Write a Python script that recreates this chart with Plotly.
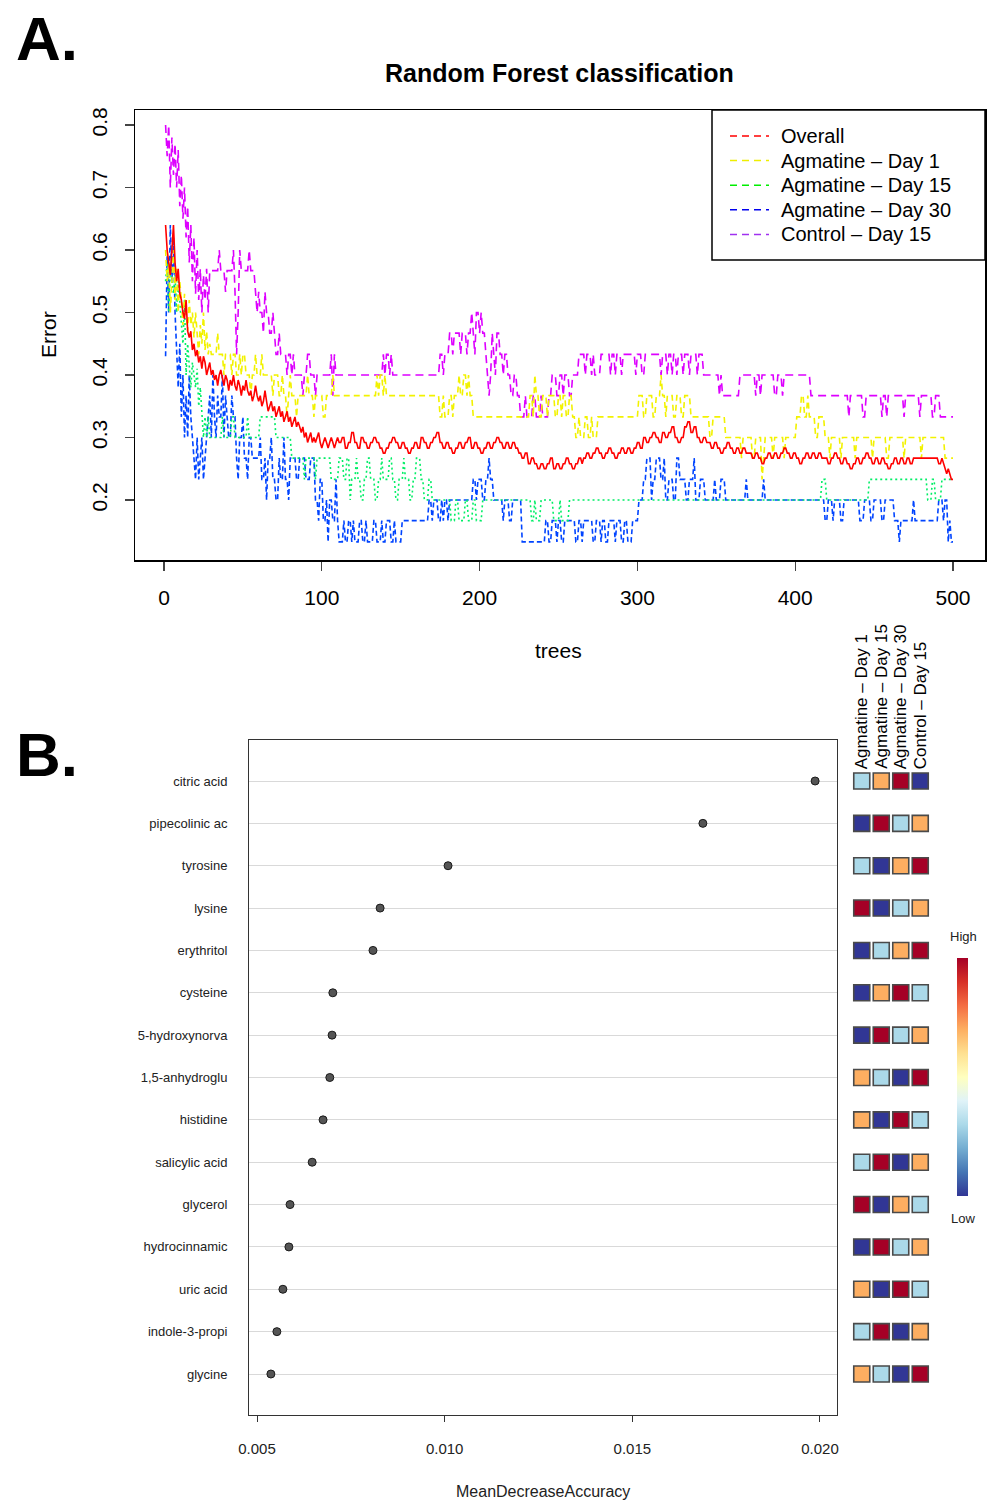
import plotly.graph_objects as go

# ---------------- Panel A data: OOB error per number of trees (run-length: (error, n_trees)) ----------
overall_runs = [
    (0.64,1),(0.60,1),(0.58,1),(0.56,1),(0.60,1),(0.64,1),(0.58,1),(0.55,1),(0.57,1),(0.53,1),
    (0.52,1),(0.50,1),(0.49,1),(0.52,1),(0.47,1),(0.46,1),(0.47,1),(0.44,1),(0.45,1),(0.43,1),
    (0.44,1),(0.42,1),(0.43,1),(0.41,1),(0.43,1),(0.42,1),(0.40,1),(0.41,1),(0.42,1),(0.40,1),
    (0.408,1),(0.392,1),(0.40,1),(0.383,1),(0.40,1),(0.408,1),(0.392,1),(0.383,1),(0.40,1),(0.392,1),
    (0.375,1),(0.392,1),(0.383,1),(0.40,1),(0.383,1),(0.375,1),(0.392,1),(0.383,1),(0.367,1),(0.383,1),
    (0.375,1),(0.392,1),(0.375,1),(0.367,1),
    (0.375,1),(0.358,1),(0.367,1),(0.383,1),(0.367,1),(0.358,1),(0.367,1),(0.35,1),(0.358,1),(0.375,1),
    (0.358,1),(0.342,1),(0.35,1),(0.358,1),(0.342,1),(0.35,1),(0.333,1),(0.342,1),(0.35,1),(0.333,1),
    (0.342,1),(0.325,1),(0.333,1),(0.342,1),(0.325,1),(0.333,1),(0.317,1),(0.325,1),(0.333,1),(0.317,1),
    (0.325,1),(0.317,1),
    (0.308,1),(0.317,1),(0.30,1),(0.308,1),(0.292,1),(0.30,1),(0.308,1),(0.292,1),(0.30,1),(0.292,1),
    (0.30,1),(0.308,1),(0.292,1),(0.283,1),(0.292,1),(0.30,1),(0.292,1),(0.283,1),(0.292,1),(0.30,1),
    (0.292,1),(0.283,1),(0.292,1),(0.30,1),
    (0.292,2),(0.30,2),(0.283,2),(0.292,2),(0.308,2),(0.292,2),(0.283,2),(0.30,2),(0.292,2),(0.283,2),
    (0.292,2),(0.30,2),(0.292,2),(0.283,2),(0.275,2),(0.283,2),(0.292,2),(0.30,2),(0.292,2),(0.283,2),
    (0.292,2),(0.283,2),(0.275,2),(0.283,2),(0.292,2),(0.283,2),(0.30,2),(0.292,2),(0.283,2),(0.292,2),
    (0.30,2),(0.308,2),(0.292,2),(0.283,2),(0.292,2),(0.283,2),(0.275,2),(0.283,2),(0.292,2),(0.283,2),
    (0.292,2),(0.30,2),(0.283,2),(0.292,2),(0.283,2),(0.275,2),(0.283,2),(0.292,2),(0.283,2),(0.292,2),
    (0.30,2),(0.292,2),(0.283,2),(0.292,2),(0.283,2),(0.292,2),(0.283,2),
    (0.275,2),(0.267,2),(0.275,2),(0.258,2),(0.267,2),(0.258,2),(0.25,2),(0.258,2),
    (0.25,2),(0.258,2),(0.267,2),(0.25,2),(0.258,2),(0.25,2),(0.258,2),(0.267,2),(0.258,2),(0.25,2),
    (0.258,2),(0.267,2),(0.258,1),
    (0.267,2),(0.275,2),(0.267,2),(0.275,2),(0.283,2),(0.275,2),(0.267,2),(0.275,2),(0.283,2),(0.275,2),
    (0.267,2),(0.275,2),(0.283,2),(0.275,2),(0.283,2),(0.275,2),
    (0.283,2),(0.292,2),(0.283,2),(0.30,2),(0.292,2),(0.30,2),(0.308,2),(0.30,2),(0.292,2),(0.308,2),
    (0.30,2),(0.308,2),(0.317,2),(0.30,2),(0.292,2),(0.30,2),(0.317,2),(0.325,2),(0.308,2),(0.317,2),
    (0.30,2),(0.292,2),(0.30,2),(0.292,1),
    (0.292,2),(0.283,2),(0.292,2),(0.283,2),(0.275,2),(0.283,2),(0.292,2),(0.283,2),(0.275,2),(0.283,2),
    (0.275,2),(0.283,2),(0.275,2),
    (0.275,2),(0.267,2),(0.275,2),(0.267,2),(0.258,2),(0.267,2),(0.275,2),(0.267,2),(0.275,2),(0.267,2),
    (0.275,2),(0.283,2),(0.275,2),(0.267,2),(0.275,2),(0.267,2),(0.258,2),(0.267,2),(0.275,2),(0.267,2),
    (0.275,2),(0.267,2),(0.275,2),(0.267,2),
    (0.267,2),(0.258,2),(0.267,2),(0.275,2),(0.267,2),(0.258,2),(0.267,2),(0.258,2),(0.25,2),(0.258,2),
    (0.267,2),(0.258,2),(0.267,2),(0.275,2),(0.267,2),(0.258,2),(0.267,2),(0.258,2),(0.267,2),(0.258,2),
    (0.25,2),(0.258,2),(0.267,2),(0.258,2),(0.267,2),(0.258,2),(0.267,2),(0.258,2),(0.267,16),(0.258,2),
    (0.267,1),(0.258,1),(0.25,1),(0.242,1),(0.25,1),(0.242,1),(0.233,2),
]

day1_runs = [
    (0.60,1),(0.55,1),(0.58,1),(0.50,1),(0.55,1),(0.60,1),(0.52,1),(0.57,1),(0.50,1),(0.55,1),
    (0.52,1),(0.48,1),(0.53,1),(0.50,1),(0.47,1),(0.52,1),(0.48,1),(0.50,1),(0.46,1),(0.50,1),
    (0.47,1),(0.433,1),(0.48,1),(0.45,1),(0.50,1),(0.44,1),(0.47,1),(0.433,1),(0.45,1),(0.433,1),
    (0.433,3),(0.467,1),(0.433,3),(0.40,1),(0.433,4),(0.40,1),(0.433,2),
    (0.40,2),(0.433,1),(0.40,1),(0.433,2),(0.40,3),(0.367,1),(0.40,2),(0.433,1),(0.40,2),
    (0.40,1),(0.433,1),(0.40,6),(0.367,1),(0.40,3),
    (0.367,2),(0.40,1),(0.367,2),(0.333,1),(0.367,1),(0.40,1),(0.367,3),(0.333,1),(0.367,2),
    (0.367,4),(0.40,1),(0.367,3),(0.333,1),(0.367,5),(0.333,2),(0.367,4),(0.40,1),(0.367,3),
    (0.367,24),(0.40,1),(0.367,1),(0.40,2),(0.367,1),(0.40,1),(0.367,3),
    (0.367,31),
    (0.333,2),(0.367,1),(0.333,3),(0.367,2),(0.333,1),(0.367,3),(0.40,1),(0.367,2),(0.40,2),(0.367,1),
    (0.40,1),(0.367,2),(0.333,36),
    (0.367,2),(0.333,1),(0.40,1),(0.367,2),(0.333,2),(0.367,3),(0.333,1),(0.367,4),(0.333,2),(0.367,2),(0.333,1),
    (0.367,2),(0.333,2),(0.367,2),
    (0.333,2),(0.30,2),(0.333,1),(0.30,3),(0.333,2),(0.30,2),(0.333,1),(0.30,3),
    (0.333,26),
    (0.367,3),(0.333,2),(0.367,4),(0.333,2),(0.367,3),(0.40,1),(0.367,2),(0.333,1),(0.367,4),(0.333,2),
    (0.367,3),(0.333,2),(0.367,4),(0.333,2),
    (0.333,10),(0.30,2),(0.333,8),(0.30,5),
    (0.30,5),(0.267,1),(0.30,6),(0.267,2),(0.30,4),(0.233,1),(0.267,1),(0.30,5),(0.267,1),(0.30,6),(0.267,1),(0.30,7),
    (0.333,3),(0.367,2),(0.333,2),(0.367,1),(0.333,4),(0.30,2),(0.333,4),
    (0.30,3),(0.267,1),(0.30,6),(0.267,1),(0.30,8),(0.267,1),(0.30,10),(0.267,1),(0.30,8),(0.267,2),
    (0.30,9),(0.267,1),(0.30,10),(0.267,1),(0.30,14),
    (0.267,6),
]

day15_runs = [
    (0.55,1),(0.58,1),(0.50,1),(0.57,1),(0.55,1),(0.53,1),(0.56,1),(0.50,1),(0.55,1),(0.52,1),
    (0.48,1),(0.45,1),(0.52,1),(0.40,1),(0.45,1),(0.42,1),(0.38,1),(0.42,1),(0.40,1),(0.38,1),
    (0.41,1),(0.35,1),(0.38,1),(0.333,1),(0.30,1),(0.333,1),(0.30,1),(0.333,1),(0.30,2),
    (0.30,6),(0.333,1),(0.30,5),(0.333,2),(0.30,8),(0.333,1),(0.30,7),
    (0.333,10),
    (0.30,10),
    (0.267,8),(0.233,1),(0.267,6),(0.233,1),(0.267,9),
    (0.233,5),
    (0.267,3),(0.233,2),(0.267,2),(0.20,1),(0.233,3),(0.267,1),(0.233,2),(0.20,2),(0.233,2),(0.267,2),
    (0.233,3),(0.20,2),(0.233,2),(0.267,1),(0.233,4),(0.267,2),(0.233,2),(0.20,2),(0.233,3),(0.267,1),
    (0.233,3),(0.20,2),(0.233,2),(0.267,3),(0.233,2),(0.20,3),(0.233,2),
    (0.20,12),
    (0.167,3),(0.20,2),(0.167,4),(0.20,2),(0.167,3),(0.20,2),(0.167,4),
    (0.20,31),
    (0.167,2),(0.20,1),(0.167,3),
    (0.20,8),
    (0.167,4),(0.20,1),(0.167,5),
    (0.20,160),
    (0.233,3),
    (0.20,27),
    (0.233,37),
    (0.20,3),(0.233,2),(0.20,4),(0.233,6),
]

day30_runs = [
    (0.43,1),(0.59,1),(0.50,1),(0.64,1),(0.55,1),(0.62,1),(0.50,1),
    (0.45,1),(0.38,1),(0.45,1),(0.333,1),(0.40,1),(0.30,1),(0.367,1),(0.30,1),(0.40,1),(0.333,1),(0.30,1),
    (0.267,1),(0.233,1),(0.30,1),(0.233,1),(0.267,1),(0.30,1),(0.233,1),(0.267,1),(0.30,1),
    (0.333,1),(0.367,1),(0.30,1),(0.40,1),(0.333,1),(0.30,1),(0.367,1),(0.333,2),(0.40,1),(0.30,1),(0.367,1),(0.333,1),
    (0.30,2),(0.367,1),(0.333,2),(0.267,1),(0.233,1),(0.30,2),(0.333,1),(0.267,2),(0.233,1),(0.30,2),
    (0.267,5),
    (0.30,1),(0.233,2),(0.267,1),(0.20,1),(0.267,2),(0.30,1),(0.233,2),(0.20,2),(0.267,1),(0.233,2),
    (0.30,1),(0.233,2),(0.20,1),(0.267,1),
    (0.267,3),(0.233,2),(0.267,4),(0.233,3),(0.267,3),
    (0.20,2),(0.167,1),(0.233,2),(0.167,2),(0.20,1),(0.133,1),(0.20,2),(0.167,2),(0.233,1),(0.167,1),
    (0.133,3),(0.167,1),(0.133,2),(0.167,2),(0.133,1),(0.167,1),(0.133,3),(0.167,2),(0.133,2),(0.167,1),
    (0.133,4),(0.167,2),(0.133,3),(0.167,1),(0.133,2),(0.167,3),(0.133,2),(0.167,1),(0.133,4),
    (0.167,17),
    (0.20,2),(0.167,1),(0.20,3),(0.167,2),(0.20,1),(0.167,1),(0.20,2),(0.167,1),(0.20,3),
    (0.20,12),
    (0.233,2),(0.20,1),(0.233,3),(0.20,2),(0.233,2),(0.267,1),(0.233,2),(0.20,2),
    (0.20,4),(0.167,1),(0.20,3),(0.167,2),(0.20,6),
    (0.133,15),
    (0.167,2),(0.133,2),(0.167,3),(0.133,1),(0.167,2),(0.133,2),(0.167,4),
    (0.167,3),(0.133,2),(0.167,2),(0.133,1),(0.167,6),(0.133,2),(0.167,3),(0.133,1),(0.167,2),(0.133,2),
    (0.167,4),(0.133,1),(0.167,3),(0.133,2),(0.167,2),(0.133,3),(0.167,4),
    (0.20,3),(0.233,2),(0.267,3),(0.20,1),(0.233,2),(0.267,3),
    (0.233,2),(0.267,1),(0.20,2),(0.233,3),(0.20,2),(0.267,2),(0.233,4),(0.20,2),(0.233,3),(0.267,1),(0.20,3),(0.233,3),
    (0.20,6),(0.233,1),(0.20,3),(0.233,3),(0.20,13),(0.233,1),(0.20,10),(0.233,1),(0.20,38),
    (0.167,2),(0.20,3),(0.167,1),(0.20,4),(0.167,2),(0.20,10),(0.167,3),(0.20,4),(0.167,2),(0.20,5),(0.167,2),(0.20,6),
    (0.167,3),(0.133,1),(0.167,8),(0.20,1),(0.167,15),
    (0.20,3),(0.167,1),(0.20,2),(0.133,1),(0.167,1),(0.133,2),
]

control_runs = [
    (0.80,1),(0.75,1),(0.80,1),(0.70,1),(0.78,1),(0.72,1),(0.77,1),(0.70,1),(0.76,1),(0.67,1),
    (0.72,1),(0.65,1),(0.70,1),(0.62,1),(0.67,1),(0.58,1),(0.64,1),(0.55,1),(0.62,1),(0.53,1),
    (0.60,1),(0.52,1),(0.57,1),(0.50,1),(0.56,1),(0.52,1),(0.57,1),(0.50,1),(0.567,2),
    (0.567,4),(0.60,1),(0.567,3),(0.533,1),(0.567,1),
    (0.567,3),(0.60,1),(0.533,1),(0.433,1),(0.50,1),(0.60,1),(0.567,2),
    (0.567,3),(0.60,1),(0.567,3),(0.533,1),(0.50,1),(0.533,1),
    (0.50,2),(0.467,1),(0.533,1),(0.50,2),(0.467,2),(0.50,1),(0.467,1),
    (0.433,2),(0.467,1),(0.433,4),(0.40,1),(0.433,2),
    (0.40,1),(0.433,1),(0.40,5),(0.367,1),(0.40,2),
    (0.433,2),(0.40,3),(0.367,1),(0.40,4),
    (0.40,5),(0.433,1),(0.367,1),(0.433,1),(0.40,2),
    (0.40,28),
    (0.433,1),(0.40,1),(0.433,2),(0.40,1),(0.433,1),(0.40,30),
    (0.433,2),(0.40,1),(0.433,3),(0.467,2),(0.433,1),(0.467,4),
    (0.433,1),(0.467,3),(0.433,1),(0.467,2),(0.50,1),(0.467,1),(0.433,1),(0.50,2),(0.467,1),(0.50,1),(0.467,2),
    (0.433,1),(0.40,1),(0.367,1),(0.40,1),(0.467,1),(0.433,1),(0.40,1),(0.467,2),(0.433,2),(0.40,1),
    (0.433,2),(0.40,2),(0.367,2),
    (0.40,2),(0.367,2),(0.333,3),(0.367,1),(0.333,4),(0.367,2),(0.333,3),(0.367,1),(0.333,4),
    (0.367,2),(0.40,3),(0.367,2),(0.40,2),(0.367,1),(0.40,3),(0.367,2),(0.40,4),
    (0.433,4),(0.40,1),(0.433,3),(0.40,1),(0.433,1),(0.40,4),(0.433,6),(0.40,1),(0.433,2),(0.40,1),
    (0.433,3),(0.40,1),(0.433,8),
    (0.40,1),(0.433,3),(0.40,2),(0.433,10),(0.40,1),(0.433,3),(0.40,1),(0.433,2),(0.40,1),(0.433,2),
    (0.40,1),(0.433,3),(0.40,1),(0.433,3),(0.40,1),(0.433,4),
    (0.40,1),(0.433,3),(0.40,10),(0.367,1),(0.40,1),(0.367,8),
    (0.367,3),(0.40,10),(0.367,1),(0.40,2),(0.367,1),(0.40,8),(0.367,2),(0.40,3),(0.367,1),(0.40,8),
    (0.40,9),
    (0.367,24),(0.333,1),(0.367,8),(0.333,2),(0.367,10),(0.333,1),(0.367,2),(0.333,1),(0.367,10),
    (0.333,1),(0.367,9),(0.333,1),(0.367,7),(0.333,2),(0.367,3),(0.333,1),
    (0.333,8),
]

series_names = ["Overall", "Agmatine \u2013 Day 1", "Agmatine \u2013 Day 15",
                "Agmatine \u2013 Day 30", "Control \u2013 Day 15"]
n_trees = 500

# ---------------- Panel B data ----------------
metabolites = ["citric acid", "pipecolinic ac", "tyrosine", "lysine", "erythritol",
               "cysteine", "5-hydroxynorva", "1,5-anhydroglu", "histidine", "salicylic acid",
               "glycerol", "hydrocinnamic", "uric acid", "indole-3-propi", "glycine"]
mda = [0.01987, 0.01688, 0.01009, 0.00828, 0.00809, 0.00702, 0.00700, 0.00694,
       0.00676, 0.00647, 0.00588, 0.00585, 0.00569, 0.00553, 0.00537]
groups = ["Agmatine \u2013 Day 1", "Agmatine \u2013 Day 15", "Agmatine \u2013 Day 30", "Control \u2013 Day 15"]
# relative level rank of each metabolite per group (1 = low ... 4 = high)
group_rank = [
    [2, 3, 4, 1],
    [1, 4, 2, 3],
    [2, 1, 3, 4],
    [4, 1, 2, 3],
    [1, 2, 3, 4],
    [1, 3, 4, 2],
    [1, 4, 2, 3],
    [3, 2, 1, 4],
    [3, 1, 4, 2],
    [2, 4, 1, 3],
    [4, 1, 3, 2],
    [1, 4, 2, 3],
    [3, 1, 4, 2],
    [2, 4, 1, 3],
    [3, 2, 1, 4],
]
mda_ticks = [0.005, 0.010, 0.015, 0.020]

# ---------------- styles ----------------
W, H = 987, 1503
FONT = "Liberation Sans, Arial, sans-serif"
line_colors = ["#FF0000", "#F2F200", "#00EE66", "#0044FF", "#DD00FF"]
legend_colors = ["#FF0000", "#EEEE00", "#00EE00", "#0000EE", "#A030F0"]
line_dash = ["solid", "6px,4px", "2px,3px", "5px,3px", "8px,5px"]
rank_colors = {1: "#313695", 2: "#ABD9E9", 3: "#FDAE61", 4: "#A50026"}


def px_x(p):
    return p / W


def px_y(p):
    return 1 - p / H


def expand(runs):
    vals = []
    for v, n in runs:
        vals.extend([v] * n)
    vals = vals[:n_trees]
    vals += [vals[-1]] * (n_trees - len(vals))
    return vals


trees = list(range(1, n_trees + 1))
all_runs = [overall_runs, day1_runs, day15_runs, day30_runs, control_runs]

fig = go.Figure()

order = [4, 3, 2, 1, 0]
for i in order:
    fig.add_trace(go.Scatter(
        x=trees, y=expand(all_runs[i]), mode="lines", name=series_names[i],
        line=dict(color=line_colors[i], width=1.6, dash=line_dash[i]),
        xaxis="x", yaxis="y", showlegend=False, hoverinfo="skip"))

# Panel B dots
rows = list(range(1, len(metabolites) + 1))
fig.add_trace(go.Scatter(
    x=mda, y=rows, mode="markers", xaxis="x2", yaxis="y2", showlegend=False,
    marker=dict(size=8, color="#555555", line=dict(color="#1a1a1a", width=1))))

# heat squares
hx, hy, hc = [], [], []
for r, ranks in enumerate(group_rank):
    for c, v in enumerate(ranks):
        hx.append(c)
        hy.append(r + 1)
        hc.append(rank_colors[v])
fig.add_trace(go.Scatter(
    x=hx, y=hy, mode="markers", xaxis="x3", yaxis="y3", showlegend=False,
    marker=dict(symbol="square", size=16, color=hc, line=dict(color="#4a4a4a", width=1.6))))

# colour bar (dummy trace)
fig.add_trace(go.Scatter(
    x=[None], y=[None], mode="markers", xaxis="x3", yaxis="y3", showlegend=False,
    marker=dict(color=[1], cmin=1, cmax=4, colorscale="RdYlBu", reversescale=True, showscale=True,
                colorbar=dict(x=px_x(957), xanchor="left", y=px_y(1077), yanchor="middle",
                              lenmode="pixels", len=238, thickness=11, thicknessmode="pixels",
                              xpad=0, ypad=0, outlinewidth=0, showticklabels=False, ticks=""))))

yr = (0.8 - 0.2) / (500 - 125)  # value per px
xr = 500 / (953 - 164)            # trees per px
fig.update_layout(
    width=W, height=H, margin=dict(l=0, r=0, t=0, b=0, autoexpand=False),
    paper_bgcolor="white", plot_bgcolor="white",
    font=dict(family=FONT, color="black"),
    xaxis=dict(domain=[px_x(135), px_x(985)], range=[(135 - 164) * xr, (985 - 164) * xr], automargin=False,
               tickvals=[0, 100, 200, 300, 400, 500], ticks="outside", ticklen=9, tickwidth=1.2,
               tickfont=dict(size=21), showgrid=False, zeroline=False, showline=True, mirror=True,
               linecolor="black", linewidth=1.5, ticklabelstandoff=9, anchor="y"),
    yaxis=dict(domain=[px_y(560), px_y(110)], range=[0.2 - (560 - 500) * yr, 0.8 + (125 - 110) * yr],
               tickvals=[0.2, 0.3, 0.4, 0.5, 0.6, 0.7, 0.8], automargin=False,
               ticktext=["0.2", "0.3", "0.4", "0.5", "0.6", "0.7", "0.8"], tickangle=-90,
               ticks="outside", ticklen=9, tickwidth=1.2, tickfont=dict(size=21),
               showgrid=False, zeroline=False, showline=True, mirror=True, linecolor="black",
               linewidth=1.5, ticklabelstandoff=9, anchor="x"),
    xaxis2=dict(domain=[px_x(249), px_x(837)], range=[0.005 - 8 / 37533, 0.005 + 580 / 37533],
                tickvals=mda_ticks, ticktext=["0.005", "0.010", "0.015", "0.020"], automargin=False,
                ticks="outside", ticklen=6, tickcolor="#333", tickfont=dict(size=15, color="#222"),
                showgrid=False, zeroline=False, showline=True, mirror=True, linecolor="#333",
                linewidth=1, ticklabelstandoff=14, anchor="y2"),
    yaxis2=dict(domain=[px_y(1415), px_y(740)], range=[15.968, 0.032], automargin=False,
                tickvals=rows, ticktext=metabolites, ticks="", tickfont=dict(size=13, color="#222"),
                showgrid=True, gridcolor="#d9d9d9", gridwidth=1, zeroline=False,
                showline=True, mirror=True, linecolor="#333", linewidth=1,
                ticklabelstandoff=18, anchor="x2"),
    xaxis3=dict(domain=[px_x(852), px_x(930)], range=[-0.5, 3.5], visible=False, anchor="y3"),
    yaxis3=dict(domain=[px_y(1415), px_y(740)], range=[15.968, 0.032], visible=False, anchor="x3"),
)

ann = []
ann.append(dict(text="<b>A.</b>", x=px_x(14), y=px_y(38), xanchor="left", yanchor="middle",
                font=dict(size=62, family=FONT)))
ann.append(dict(text="<b>B.</b>", x=px_x(14), y=px_y(755), xanchor="left", yanchor="middle",
                font=dict(size=62, family=FONT)))
ann.append(dict(text="<b>Random Forest classification</b>", x=px_x(559), y=px_y(73),
                xanchor="center", yanchor="middle", font=dict(size=25, family=FONT)))
ann.append(dict(text="trees", x=px_x(558), y=px_y(650), xanchor="center", yanchor="middle",
                font=dict(size=21, family=FONT)))
ann.append(dict(text="Error", x=px_x(48), y=px_y(335), xanchor="center", yanchor="middle",
                textangle=-90, font=dict(size=21, family=FONT)))
ann.append(dict(text="MeanDecreaseAccuracy", x=px_x(543), y=px_y(1491), xanchor="center",
                yanchor="middle", font=dict(size=16, family=FONT, color="#222")))
ann.append(dict(text="High", x=px_x(963), y=px_y(936), xanchor="center", yanchor="middle",
                font=dict(size=13, family=FONT, color="#222")))
ann.append(dict(text="Low", x=px_x(963), y=px_y(1218), xanchor="center", yanchor="middle",
                font=dict(size=13, family=FONT, color="#222")))
for c, g in enumerate(groups):
    ann.append(dict(text=g, x=c, xref="x3", y=px_y(771), yref="paper", xanchor="center",
                    yanchor="bottom", textangle=-90, font=dict(size=17, family=FONT)))

# legend (manual, R style)
shapes = [dict(type="rect", xref="paper", yref="paper", x0=px_x(712), x1=px_x(985),
               y0=px_y(260), y1=px_y(110), line=dict(color="black", width=1.5))]
for i, name in enumerate(series_names):
    yy = 136 + i * 24.6
    shapes.append(dict(type="line", xref="paper", yref="paper", x0=px_x(730), x1=px_x(769),
                       y0=px_y(yy), y1=px_y(yy),
                       line=dict(color=legend_colors[i], width=1.5, dash="7px,5px")))
    ann.append(dict(text=name, x=px_x(779), y=px_y(yy), xanchor="left", yanchor="middle",
                    font=dict(size=20, family=FONT)))

for a in ann:
    a.setdefault("xref", "paper")
    a.setdefault("yref", "paper")
    a["showarrow"] = False
fig.update_layout(annotations=ann, shapes=shapes)

# place the figure at the page origin (no default body margin / scrollbars)
fig.write_html("out.html", config={"displayModeBar": False, "staticPlot": True},
               post_script="document.body.style.margin='0';document.body.style.overflow='hidden';")
